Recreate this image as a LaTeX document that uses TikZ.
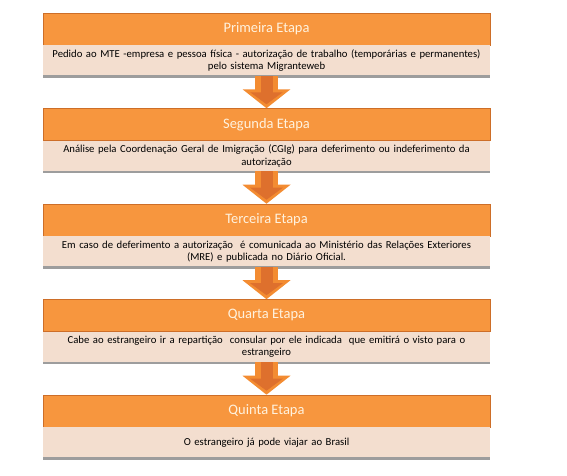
\documentclass[tikz,border=0pt]{standalone}
\usepackage{fontspec}
\setmainfont{Carlito}
\usepackage{tikz}
\usetikzlibrary{arrows.meta,positioning,shadows}
\definecolor{etapaorange}{RGB}{247,150,62}
\definecolor{etapaedge}{RGB}{205,110,40}
\definecolor{etapatext}{RGB}{255,242,222}
\definecolor{detalhefill}{RGB}{243,222,207}
\definecolor{setaorange}{RGB}{243,140,50}
\definecolor{setacore}{RGB}{222,112,45}

\begin{document}
\begin{tikzpicture}[
    etapa/.style={draw=etapaedge, line width=0.3pt, fill=etapaorange, text=etapatext,
        minimum width=11.175cm, minimum height=0.8cm, inner sep=0pt,
        font=\fontsize{10.3}{12}\selectfont},
    detalhe/.style={fill=detalhefill, minimum width=11.175cm, minimum height=0.75cm,
        text width=11cm, align=center, inner sep=0pt, text=black,
        font=\fontsize{7.6}{8.8}\selectfont,
        drop shadow={shadow xshift=0pt, shadow yshift=-1.6pt, opacity=0.55, fill=black!70}},
    seta/.style={draw=setaorange, line width=0.575cm,
        -{Triangle[width=1.175cm,length=0.475cm]},
        postaction={draw=setacore, line width=0.3cm, shorten >=0.1cm,
            -{Triangle[width=0.8cm,length=0.3cm]}}}
]
    \useasboundingbox (0,0) rectangle (14.175,11.9);

    % Primeira etapa
    \node[etapa] (h1) at (6.6625, 11.175) {Primeira Etapa};
    \node[detalhe, below=0pt of h1] (d1) {Pedido ao MTE -empresa e pessoa física - autorização de trabalho (temporárias e permanentes)\\pelo sistema Migranteweb};

    % Segunda etapa
    \node[etapa, below=0.8125cm of d1] (h2) {Segunda Etapa};
    \node[detalhe, below=0pt of h2] (d2) {Análise pela Coordenação Geral de Imigração (CGIg) para deferimento ou indeferimento da\\autorização};

    % Terceira etapa
    \node[etapa, below=0.8125cm of d2] (h3) {Terceira Etapa};
    \node[detalhe, below=0pt of h3] (d3) {Em caso de deferimento a autorização\ \ é comunicada ao Ministério das Relações Exteriores\\(MRE) e publicada no Diário Oficial.};

    % Quarta etapa
    \node[etapa, below=0.8125cm of d3] (h4) {Quarta Etapa};
    \node[detalhe, below=0pt of h4] (d4) {Cabe ao estrangeiro ir a repartição\ \ consular por ele indicada\ \ que emitirá o visto para o\\estrangeiro};

    % Quinta etapa
    \node[etapa, below=0.8125cm of d4] (h5) {Quinta Etapa};
    \node[detalhe, below=0pt of h5] (d5) {O estrangeiro já pode viajar ao Brasil};

    % setas entre as etapas
    \foreach \a/\b in {d1/h2, d2/h3, d3/h4, d4/h5} {
        \draw[seta] (\a.south) -- (\b.north);
    }
\end{tikzpicture}
\end{document}
